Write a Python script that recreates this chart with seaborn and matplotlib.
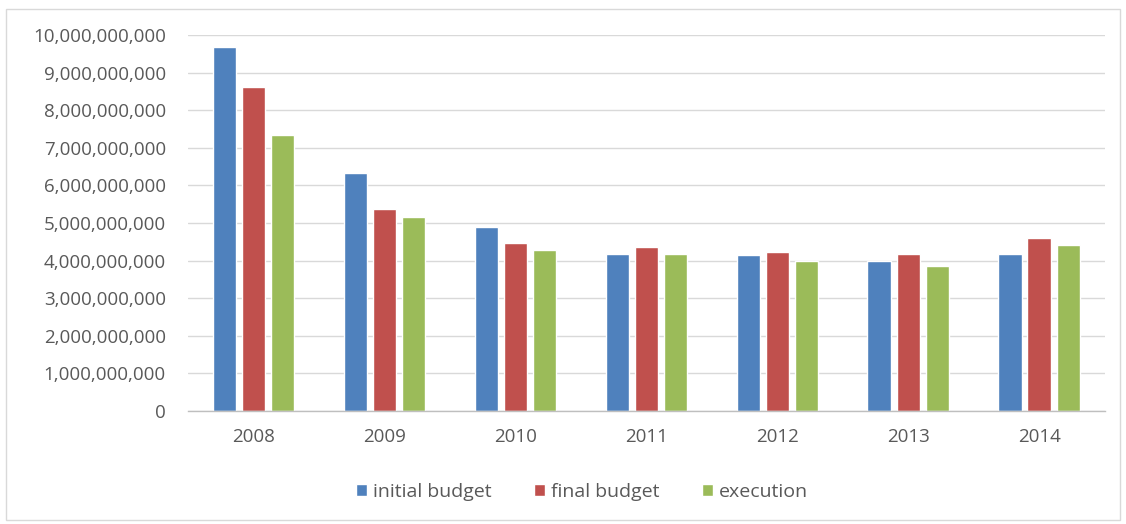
import matplotlib
matplotlib.use("Agg")
import matplotlib.pyplot as plt
import matplotlib.ticker as mticker
from matplotlib.patches import Rectangle
import seaborn as sns
import pandas as pd

years = ["2008", "2009", "2010", "2011", "2012", "2013", "2014"]
initial_budget = [9.68e9, 6.33e9, 4.89e9, 4.17e9, 4.15e9, 3.98e9, 4.19e9]
final_budget = [8.63e9, 5.38e9, 4.47e9, 4.36e9, 4.22e9, 4.19e9, 4.61e9]
execution = [7.35e9, 5.17e9, 4.29e9, 4.19e9, 4.00e9, 3.87e9, 4.42e9]
series_names = ["initial budget", "final budget", "execution"]
colors = ["#4F81BD", "#C0504D", "#9BBB59"]

rows = []
for name, vals in zip(series_names, [initial_budget, final_budget, execution]):
    for y, v in zip(years, vals):
        rows.append({"year": y, "series": name, "value": v})
df = pd.DataFrame(rows)

sns.set_theme(style="white")
plt.rcParams['font.family'] = ['Open Sans', 'DejaVu Sans']

fig = plt.figure(figsize=(11.26, 5.24), dpi=100)
ax = fig.add_axes([0.167, 0.2156, 0.814, 0.7174])
sns.barplot(data=df, x="year", y="value", hue="series", palette=colors,
            width=0.667, gap=0.2, ax=ax, saturation=1, errorbar=None)

ax.set_ylim(0, 1e10)
ax.yaxis.set_major_locator(mticker.MultipleLocator(1e9))
ax.yaxis.set_major_formatter(mticker.FuncFormatter(lambda v, p: f"{int(round(v)):,}"))
ax.grid(axis="y", color="#D9D9D9", linewidth=1)
ax.set_axisbelow(True)
for s in ["top", "right", "left"]:
    ax.spines[s].set_visible(False)
ax.spines["bottom"].set_color("#BFBFBF")
ax.spines["bottom"].set_linewidth(1)
ax.set_xlabel("")
ax.set_ylabel("")
ax.tick_params(axis="both", colors="#595959", labelsize=13.5, length=0)
ax.tick_params(axis="y", pad=16)
ax.tick_params(axis="x", pad=12)

ax.legend(loc="center", bbox_to_anchor=(0.43, -0.215), ncol=3, frameon=False,
          fontsize=14, handlelength=0.55, handleheight=0.55, handletextpad=0.3,
          columnspacing=2.2, labelcolor="#595959")

fig.patches.append(Rectangle((0.005, 0.008), 0.99, 0.975, transform=fig.transFigure,
                             fill=False, edgecolor="#D9D9D9", linewidth=1))

fig.savefig("out.png", dpi=100)
